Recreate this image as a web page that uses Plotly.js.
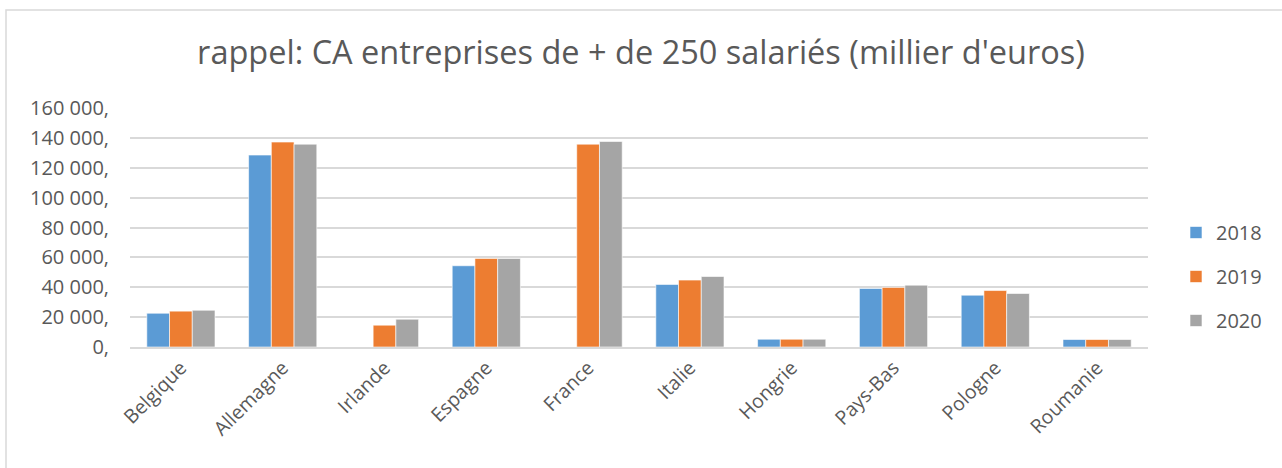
<!DOCTYPE html>
<html>
<head>
<meta charset="utf-8">
<script src="https://cdn.plot.ly/plotly-3.0.1.min.js"></script>
<style>
html,body{margin:0;padding:0;background:#fff;}
#chart{width:1282px;height:468px;}
</style>
</head>
<body>
<div id="chart"></div>
<script>
const categories = ["Belgique","Allemagne","Irlande","Espagne","France","Italie","Hongrie","Pays-Bas","Pologne","Roumanie"];
const values2018 = [22600,128500,null,54400,null,41900,5200,39200,34700,5000];
const values2019 = [24000,137200,14600,59300,135800,44800,5200,39900,37800,5000];
const values2020 = [24600,135800,18600,59300,137600,47200,5200,41400,35800,5000];
const seriesNames = ["2018","2019","2020"];
const tickValues = [0,20000,40000,60000,80000,100000,120000,140000,160000];
const tickLabels = ["0,","20 000,","40 000,","60 000,","80 000,","100 000,","120 000,","140 000,","160 000,"];
const titleText = "rappel: CA entreprises de + de 250 salariés (millier d'euros)";

const colors = ["#5b9bd5","#ed7d31","#a5a5a5"];
const allValues = [values2018, values2019, values2020];
const font = "Open Sans, sans-serif";

const traces = allValues.map((v,i)=>({
  type:"bar",
  name:seriesNames[i],
  x:categories,
  y:v,
  legendgroup:"g"+i,
  marker:{color:colors[i], line:{color:"#ffffff", width:0.6}},
  hoverinfo:"x+y+name"
}));

const L=130, R=1148, T=108, B=347, W=1282, H=468;
const pw=R-L, ph=B-T;
const px = v => (v-L)/pw;
const py = v => (B-v)/ph;

const layout = {
  width:W, height:H,
  margin:{l:L, r:W-R, t:T, b:H-B},
  paper_bgcolor:"#ffffff",
  plot_bgcolor:"#ffffff",
  font:{family:font, color:"#595959", size:20},
  title:{text:titleText, font:{family:font, size:32.5, color:"#595959"}, x:0.5, xref:"container", y:1-53/H, yref:"container", yanchor:"middle", xanchor:"center"},
  barmode:"group",
  bargap:0.33,
  bargroupgap:0,
  xaxis:{
    type:"category",
    tickangle:-45,
    tickfont:{family:font, size:19.5, color:"#595959"},
    showgrid:false,
    showline:true, linecolor:"#d9d9d9", linewidth:1.5,
    ticks:"", zeroline:false, fixedrange:true
  },
  yaxis:{
    range:[0,160000],
    tickvals:tickValues,
    ticktext:tickLabels,
    tickfont:{family:font, size:20, color:"#595959"},
    ticklabelstandoff:20,
    showgrid:true, gridcolor:"#d9d9d9", gridwidth:1.5,
    zeroline:false, showline:false, ticks:"", ticklen:0,
    automargin:false, fixedrange:true
  },
  showlegend:true,
  legend:{
    x:px(1176), xanchor:"left",
    y:py(213), yanchor:"top",
    font:{family:font, size:20, color:"#595959"},
    traceorder:"grouped",
    tracegroupgap:15,
    bgcolor:"rgba(0,0,0,0)"
  },
  shapes:[{
    type:"rect", xref:"paper", yref:"paper",
    x0:px(6), x1:px(1290), y0:py(476), y1:py(10),
    line:{color:"#d9d9d9", width:1.5}, fillcolor:"rgba(0,0,0,0)", layer:"below"
  }]
};

Plotly.newPlot("chart", traces, layout, {displayModeBar:false});
</script>
</body>
</html>
